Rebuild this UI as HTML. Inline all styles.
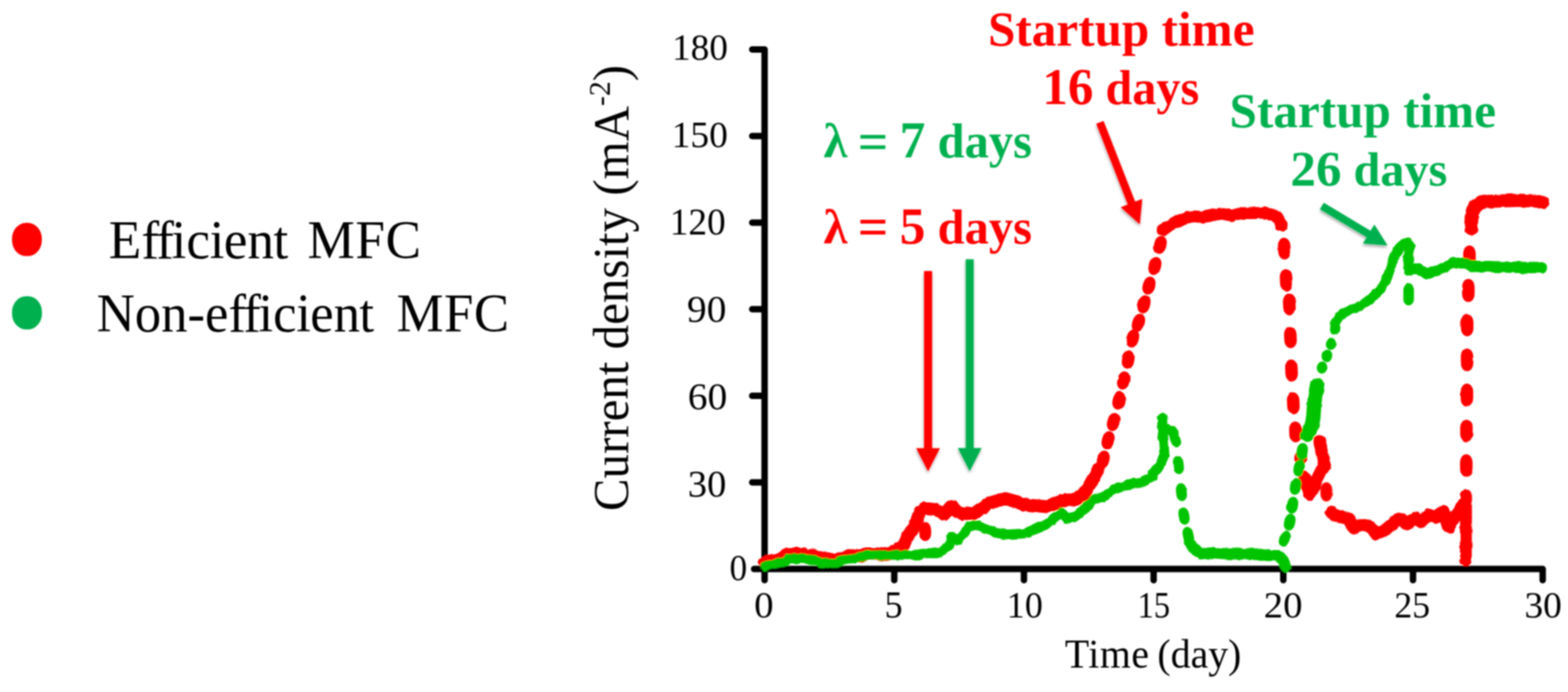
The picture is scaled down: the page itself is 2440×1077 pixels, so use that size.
<!DOCTYPE html>
<html lang="en">
<head>
<meta charset="utf-8">
<title>Current density of efficient and non-efficient MFC</title>
<style>
html,body{margin:0;padding:0;background:#ffffff;}
body{width:2440px;height:1077px;overflow:hidden;}
svg{display:block;}
svg text{font-family:"Liberation Serif","DejaVu Serif",serif;}
</style>
</head>
<body>
<svg width="2440" height="1077" viewBox="0 0 2440 1077" role="img" aria-label="Current density versus time for efficient and non-efficient MFC">
<defs>
<filter id="shadow" x="-30%" y="-30%" width="160%" height="160%">
<feDropShadow dx="-0.5" dy="3" stdDeviation="2.2" flood-color="#000" flood-opacity="0.38"/>
</filter>
<filter id="rough" filterUnits="userSpaceOnUse" x="1150" y="280" width="1290" height="640">
<feTurbulence type="fractalNoise" baseFrequency="0.09" numOctaves="2" seed="7" result="n"/>
<feDisplacementMap in="SourceGraphic" in2="n" scale="5" xChannelSelector="R" yChannelSelector="G"/>
</filter>
<filter id="rough2" filterUnits="userSpaceOnUse" x="1150" y="280" width="1290" height="640">
<feTurbulence type="fractalNoise" baseFrequency="0.05" numOctaves="1" seed="3" result="n"/>
<feDisplacementMap in="SourceGraphic" in2="n" scale="3" xChannelSelector="R" yChannelSelector="G"/>
</filter>
<filter id="soft" filterUnits="userSpaceOnUse" x="0" y="0" width="2440" height="1077">
<feGaussianBlur stdDeviation="0.85"/>
</filter>
</defs>
<rect width="2440" height="1077" fill="#ffffff"/>
<g id="figure" filter="url(#soft)">
<g id="legend">
<rect x="18.7" y="346.8" width="46.4" height="51.8" rx="22" ry="24.5" fill="#ff0000"/>
<rect x="18.7" y="461.0" width="46.6" height="51.8" rx="22" ry="24.5" fill="#00b050"/>
</g>
<g id="axes">
<path d="M1189.8 77.0 V903.0" stroke="#000" stroke-width="10.0" stroke-linecap="round" fill="none"/>
<path d="M1173.5 885.6 H2400.6" stroke="#000" stroke-width="10.0" stroke-linecap="round" fill="none"/>
<path d="M1170.5 77.0 H1187.8" stroke="#000" stroke-width="10.0" stroke-linecap="round" fill="none"/>
<path d="M1170.5 211.8 H1187.8" stroke="#000" stroke-width="10.0" stroke-linecap="round" fill="none"/>
<path d="M1170.5 346.5 H1187.8" stroke="#000" stroke-width="10.0" stroke-linecap="round" fill="none"/>
<path d="M1170.5 481.3 H1187.8" stroke="#000" stroke-width="10.0" stroke-linecap="round" fill="none"/>
<path d="M1170.5 616.1 H1187.8" stroke="#000" stroke-width="10.0" stroke-linecap="round" fill="none"/>
<path d="M1170.5 750.8 H1187.8" stroke="#000" stroke-width="10.0" stroke-linecap="round" fill="none"/>
<path d="M1391.6 887.6 V903.0" stroke="#000" stroke-width="10.0" stroke-linecap="round" fill="none"/>
<path d="M1593.4 887.6 V903.0" stroke="#000" stroke-width="10.0" stroke-linecap="round" fill="none"/>
<path d="M1795.2 887.6 V903.0" stroke="#000" stroke-width="10.0" stroke-linecap="round" fill="none"/>
<path d="M1997.0 887.6 V903.0" stroke="#000" stroke-width="10.0" stroke-linecap="round" fill="none"/>
<path d="M2198.8 887.6 V903.0" stroke="#000" stroke-width="10.0" stroke-linecap="round" fill="none"/>
<path d="M2400.6 887.6 V903.0" stroke="#000" stroke-width="10.0" stroke-linecap="round" fill="none"/>
</g>
<g id="series">
<g id="red-series" filter="url(#rough)">
<path d="M1189.7 875.8 L1205.1 872.9 L1220.1 867.9 L1225.1 862.1 L1246.9 862.1 L1255.2 864.6 L1266.9 864.6 L1276.9 869.6 L1288.7 869.6 L1300.4 872.9 L1313.7 867.1 L1325.4 863.8 L1338.8 865.4 L1347.2 862.1 L1363.9 862.1 L1378.9 862.9 L1391.5 859.1 L1404.8 850.4 L1412.0 836.2 L1420.4 822.3 L1427.1 808.9 L1431.6 796.1 L1437.4 791.5 L1447.4 792.2 L1455.8 793.2 L1469.2 800.6 L1477.5 790.5 L1482.5 788.2 L1489.2 795.2 L1497.6 800.2 L1514.3 798.6 L1527.7 791.9 L1539.4 783.5 L1556.1 777.7 L1564.5 776.0 L1580.0 780.2 L1593.4 785.2 L1610.1 786.9 L1626.9 788.5 L1640.2 783.5 L1656.9 778.5 L1677.0 776.8 L1687.0 768.5 L1695.4 755.1 L1703.8 740.1 L1708.8 730.0" fill="none" stroke="#ff0000" stroke-width="20.0" stroke-linecap="round" stroke-linejoin="round"/>
<path d="M1809.2 358.2 L1816.3 353.5 L1827.2 347.2 L1840.6 340.5 L1857.3 336.8 L1874.0 337.8 L1890.7 334.1 L1900.8 332.5 L1915.8 335.5 L1932.5 331.8 L1949.2 331.8 L1966.0 331.0 L1982.7 335.1 L1991.0 341.8 L1994.4 351.8" fill="none" stroke="#ff0000" stroke-width="18.5" stroke-linecap="round" stroke-linejoin="round"/>
<path d="M2030.2 742.8 L2038.0 768.8 L2043.2 761.0 L2048.4 748.0 L2054.9 735.0 L2061.4 724.6 L2058.8 714.2 L2055.7 698.6 L2053.6 686.9" fill="none" stroke="#ff0000" stroke-width="19.5" stroke-linecap="round" stroke-linejoin="round"/>
<path d="M2072.1 796.9 L2082.1 803.5 L2097.1 806.9 L2107.2 821.9 L2117.2 816.9 L2128.9 818.6 L2142.3 830.3 L2155.6 825.3 L2167.3 815.2 L2177.4 806.9 L2190.7 815.2 L2200.8 806.9 L2210.8 811.9 L2224.2 801.9 L2234.2 805.2 L2245.9 796.9 L2254.2 820.3 L2260.9 808.6 L2271.0 793.5 L2281.0 780.1" fill="none" stroke="#ff0000" stroke-width="20.0" stroke-linecap="round" stroke-linejoin="round"/>
<path d="M2281.3 771.0 L2281.0 872.0" fill="none" stroke="#ff0000" stroke-width="18.5" stroke-linecap="round" stroke-linejoin="round"/>
<path d="M2289.6 356.0 L2289.9 346.8 L2291.2 329.3 L2295.4 320.1 L2304.9 315.4 L2315.8 313.4 L2340.9 312.4 L2366.0 311.7 L2391.0 313.1 L2401.1 315.4" fill="none" stroke="#ff0000" stroke-width="20.5" stroke-linecap="round" stroke-linejoin="round"/>
</g>
<g id="red-points" filter="url(#rough2)">
<rect x="1425.0" y="818.0" width="29.5" height="18.5" rx="11.5" ry="9.2" fill="#ff0000" transform="rotate(89.0 1439.8 827.2)"/>
<rect x="1702.5" y="705.8" width="28.6" height="19.0" rx="11.8" ry="9.5" fill="#ff0000" transform="rotate(-76.0 1716.8 715.3)"/>
<rect x="1710.0" y="675.7" width="28.6" height="19.0" rx="11.8" ry="9.5" fill="#ff0000" transform="rotate(-74.9 1724.3 685.2)"/>
<rect x="1718.3" y="647.3" width="28.6" height="19.0" rx="11.8" ry="9.5" fill="#ff0000" transform="rotate(-74.9 1732.6 656.8)"/>
<rect x="1726.7" y="613.9" width="28.6" height="19.0" rx="11.8" ry="9.5" fill="#ff0000" transform="rotate(-76.3 1741.0 623.4)"/>
<rect x="1734.0" y="582.7" width="28.6" height="19.0" rx="11.8" ry="9.5" fill="#ff0000" transform="rotate(-77.0 1748.3 592.2)"/>
<rect x="1741.4" y="550.0" width="28.6" height="19.0" rx="11.8" ry="9.5" fill="#ff0000" transform="rotate(-77.7 1755.7 559.5)"/>
<rect x="1748.3" y="517.3" width="28.6" height="19.0" rx="11.8" ry="9.5" fill="#ff0000" transform="rotate(-74.5 1762.6 526.8)"/>
<rect x="1757.3" y="492.8" width="28.6" height="19.0" rx="11.8" ry="9.5" fill="#ff0000" transform="rotate(-71.7 1771.6 502.3)"/>
<rect x="1765.9" y="464.2" width="28.6" height="19.0" rx="11.8" ry="9.5" fill="#ff0000" transform="rotate(-74.3 1780.2 473.7)"/>
<rect x="1773.6" y="435.0" width="28.6" height="19.0" rx="11.8" ry="9.5" fill="#ff0000" transform="rotate(-74.1 1787.9 444.5)"/>
<rect x="1782.9" y="404.5" width="28.6" height="19.0" rx="11.8" ry="9.5" fill="#ff0000" transform="rotate(-74.5 1797.2 414.0)"/>
<rect x="1791.2" y="371.5" width="28.6" height="19.0" rx="11.8" ry="9.5" fill="#ff0000" transform="rotate(-75.9 1805.5 381.0)"/>
<rect x="1981.5" y="377.2" width="34.0" height="19.5" rx="12.1" ry="9.8" fill="#ff0000" transform="rotate(87.3 1998.5 387.0)"/>
<rect x="1984.0" y="426.8" width="35.0" height="19.5" rx="12.1" ry="9.8" fill="#ff0000" transform="rotate(87.4 2001.5 436.5)"/>
<rect x="1989.3" y="464.2" width="34.0" height="19.5" rx="12.1" ry="9.8" fill="#ff0000" transform="rotate(87.3 2006.3 474.0)"/>
<rect x="1991.0" y="515.2" width="34.0" height="19.5" rx="12.1" ry="9.8" fill="#ff0000" transform="rotate(87.3 2008.0 525.0)"/>
<rect x="1992.4" y="567.0" width="34.5" height="19.5" rx="12.1" ry="9.8" fill="#ff0000" transform="rotate(87.3 2009.7 576.8)"/>
<rect x="1995.2" y="618.0" width="34.5" height="19.5" rx="12.1" ry="9.8" fill="#ff0000" transform="rotate(87.3 2012.5 627.8)"/>
<rect x="1999.7" y="662.5" width="32.5" height="19.5" rx="12.1" ry="9.8" fill="#ff0000" transform="rotate(87.2 2016.0 672.2)"/>
<rect x="2012.6" y="703.2" width="22.1" height="19.5" rx="11.0" ry="9.8" fill="#ff0000" transform="rotate(85.8 2023.6 713.0)"/>
<rect x="2049.1" y="756.3" width="29.9" height="18.5" rx="11.5" ry="9.2" fill="#ff0000" transform="rotate(90.0 2064.0 765.5)"/>
<rect x="2269.6" y="389.2" width="34.0" height="19.5" rx="12.1" ry="9.8" fill="#ff0000" transform="rotate(90.0 2286.6 399.0)"/>
<rect x="2266.9" y="442.2" width="36.0" height="19.5" rx="12.1" ry="9.8" fill="#ff0000" transform="rotate(90.0 2284.9 452.0)"/>
<rect x="2265.6" y="496.2" width="35.1" height="19.5" rx="12.1" ry="9.8" fill="#ff0000" transform="rotate(90.0 2283.2 505.9)"/>
<rect x="2265.4" y="550.5" width="35.1" height="19.5" rx="12.1" ry="9.8" fill="#ff0000" transform="rotate(90.0 2283.0 560.2)"/>
<rect x="2264.9" y="605.3" width="35.9" height="19.5" rx="12.1" ry="9.8" fill="#ff0000" transform="rotate(90.0 2282.8 615.0)"/>
<rect x="2264.8" y="660.8" width="34.3" height="19.5" rx="12.1" ry="9.8" fill="#ff0000" transform="rotate(90.0 2282.0 670.5)"/>
<rect x="2264.3" y="714.8" width="35.0" height="19.5" rx="12.1" ry="9.8" fill="#ff0000" transform="rotate(90.0 2281.8 724.5)"/>
</g>
<g id="green-series" filter="url(#rough)">
<path d="M1189.7 881.5 L1205.1 877.1 L1221.8 873.8 L1226.8 869.6 L1246.9 869.6 L1266.9 871.3 L1276.9 875.5 L1300.4 876.3 L1313.7 870.4 L1330.4 868.8 L1347.2 864.6 L1363.9 863.8 L1430.7 863.8 L1437.4 860.4 L1447.4 862.1" fill="none" stroke="#00c400" stroke-width="14.8" stroke-linecap="round" stroke-linejoin="round"/>
<path d="M1447.4 862.1 L1464.2 858.7 L1477.5 848.7 L1480.9 835.3 L1489.2 840.4 L1497.6 833.7 L1507.6 820.3 L1517.7 816.9 L1531.0 822.0 L1547.7 828.7 L1564.5 832.0 L1580.0 831.2 L1593.4 830.3 L1606.8 825.3 L1626.9 816.9 L1643.6 803.6 L1651.9 797.7 L1660.3 806.9 L1673.7 803.6 L1690.4 790.2 L1702.1 776.8 L1717.1 773.5 L1732.2 761.8 L1743.9 758.4 L1760.6 752.6 L1777.3 750.1 L1794.0 741.7 L1793.7 737.1" fill="none" stroke="#00c400" stroke-width="15.2" stroke-linecap="round" stroke-linejoin="round"/>
<path d="M1793.7 737.1 L1805.4 723.7 L1812.0 708.6 L1810.4 683.6 L1808.7 666.9 L1808.7 650.1" fill="none" stroke="#00c400" stroke-width="15.5" stroke-linecap="round" stroke-linejoin="round"/>
<path d="M1812.0 665.2 L1825.4 671.9 L1830.4 688.6" fill="none" stroke="#00c400" stroke-width="15.5" stroke-linecap="round" stroke-linejoin="round"/>
<path d="M1850.8 843.7 L1857.5 853.7 L1869.2 862.1 L1886.0 860.4 L1911.0 862.1 L1960.0 862.1 L1956.7 862.1 L1973.4 864.6 L1990.1 864.6 L1996.8 872.1 L2000.2 881.3" fill="none" stroke="#00c400" stroke-width="17.3" stroke-linecap="round" stroke-linejoin="round"/>
<path d="M2034.1 676.5 L2041.1 664.8 L2043.7 649.2 L2045.0 631.0 L2046.6 615.4 L2049.7 599.3" fill="none" stroke="#00c400" stroke-width="22.5" stroke-linecap="round" stroke-linejoin="round"/>
<path d="M2077.0 513.0 L2078.0 503.0 L2083.0 494.0 L2092.0 486.5 L2103.0 481.5 L2113.0 478.5 L2122.0 473.0 L2134.7 463.5 L2144.0 455.0 L2150.5 447.5 L2158.4 433.0 L2164.7 414.5 L2171.0 397.0 L2177.5 385.5 L2185.0 379.0 L2190.5 377.5" fill="none" stroke="#00c400" stroke-width="15.0" stroke-linecap="round" stroke-linejoin="round"/>
<path d="M2190.5 377.5 L2194.0 384.0 L2192.0 395.0 L2191.0 410.0 L2192.0 420.0 L2199.0 418.0 L2207.2 417.5 L2220.5 427.0 L2232.2 422.0 L2249.0 415.4 L2262.3 408.7 L2282.4 410.3 L2290.7 415.4" fill="none" stroke="#00c400" stroke-width="16.0" stroke-linecap="round" stroke-linejoin="round"/>
<path d="M2290.7 414.8 L2307.5 414.8 L2340.9 415.6 L2374.3 416.4 L2397.7 416.4" fill="none" stroke="#00c400" stroke-width="17.6" stroke-linecap="round" stroke-linejoin="round"/>
</g>
<g id="green-points" filter="url(#rough2)">
<rect x="1819.8" y="715.8" width="28.0" height="16.5" rx="10.2" ry="8.2" fill="#00c400" transform="rotate(83.6 1833.8 724.0)"/>
<rect x="1824.5" y="757.8" width="28.0" height="16.5" rx="10.2" ry="8.2" fill="#00c400" transform="rotate(83.7 1838.5 766.0)"/>
<rect x="1828.5" y="794.5" width="28.0" height="16.5" rx="10.2" ry="8.2" fill="#00c400" transform="rotate(81.0 1842.5 802.7)"/>
<rect x="1835.2" y="825.5" width="28.0" height="16.5" rx="10.2" ry="8.2" fill="#00c400" transform="rotate(77.8 1849.2 833.7)"/>
<rect x="1986.0" y="830.2" width="26.5" height="17.0" rx="10.5" ry="8.5" fill="#00c400" transform="rotate(-73.7 1999.3 838.7)"/>
<rect x="1993.7" y="804.2" width="26.5" height="17.0" rx="10.5" ry="8.5" fill="#00c400" transform="rotate(-77.1 2006.9 812.7)"/>
<rect x="1998.0" y="777.8" width="26.5" height="17.0" rx="10.5" ry="8.5" fill="#00c400" transform="rotate(-80.7 2011.3 786.3)"/>
<rect x="2002.8" y="748.5" width="26.5" height="17.0" rx="10.5" ry="8.5" fill="#00c400" transform="rotate(-79.9 2016.0 757.0)"/>
<rect x="2008.3" y="720.0" width="26.5" height="17.0" rx="10.5" ry="8.5" fill="#00c400" transform="rotate(-79.3 2021.6 728.5)"/>
<rect x="2013.0" y="694.0" width="26.5" height="17.0" rx="10.5" ry="8.5" fill="#00c400" transform="rotate(-79.8 2026.3 702.5)"/>
<rect x="2043.0" y="599.8" width="19.0" height="16.5" rx="9.5" ry="8.2" fill="#00c400" transform="rotate(-82.4 2052.5 608.0)"/>
<rect x="2047.8" y="563.8" width="19.0" height="16.5" rx="9.5" ry="8.2" fill="#00c400" transform="rotate(-77.3 2057.3 572.0)"/>
<rect x="2055.3" y="545.4" width="19.0" height="16.5" rx="9.5" ry="8.2" fill="#00c400" transform="rotate(-68.9 2064.8 553.6)"/>
<rect x="2062.0" y="527.0" width="19.0" height="16.5" rx="9.5" ry="8.2" fill="#00c400" transform="rotate(-70.0 2071.5 535.2)"/>
<rect x="2174.5" y="449.8" width="35.0" height="16.5" rx="10.2" ry="8.2" fill="#00c400" transform="rotate(90.0 2192.0 458.0)"/>
</g>
</g>
<g id="arrows" filter="url(#shadow)">
<polygon points="1438.0,421.7 1438.0,697.6 1425.7,697.6 1444.2,733.6 1462.7,697.6 1450.5,697.6 1450.5,421.7" fill="#ff0000"/>
<polygon points="1502.8,403.4 1502.8,697.2 1490.5,697.2 1509.0,733.2 1527.5,697.2 1515.2,697.2 1515.2,403.4" fill="#00b050"/>
<polygon points="1705.9,192.6 1755.1,318.3 1744.0,322.6 1773.7,349.1 1777.5,309.5 1766.4,313.8 1717.3,188.2" fill="#ff0000"/>
<polygon points="2054.0,325.7 2126.8,369.3 2120.9,379.1 2159.2,381.9 2138.7,349.5 2132.8,359.2 2060.0,315.5" fill="#00b050"/>
</g>
<g id="labels">
<text transform="translate(169.31 401.94) scale(0.9977 1.0093)" font-size="83" dx="0 0 -3 -3.5 0 -0.5 -1 0 -1 0 9.23 0.9 0.9">Efficient MFC</text>
<text transform="translate(150.43 516.34) scale(0.9889 1.0076)" font-size="83" dx="0 0 0 0 0 0 -3 -3.5 0 -0.5 -1 0 -1 0 14.68 0.9 0.9">Non-efficient MFC</text>
<text transform="translate(1537.47 71.19) scale(1.0075 1.0101)" font-size="76" font-weight="bold" fill="#ff0000">Startup time</text>
<text transform="translate(1622.09 161.74) scale(0.9866 0.9885)" font-size="76" font-weight="bold" fill="#ff0000"><tspan font-size="80.5">16</tspan> days</text>
<text transform="translate(1913.37 198.43) scale(1.0075 1.0072)" font-size="76" font-weight="bold" fill="#00b050">Startup time</text>
<text transform="translate(2008.04 289.17) scale(0.9876 0.9741)" font-size="76" font-weight="bold" fill="#00b050"><tspan font-size="80.5">26</tspan> days</text>
<text transform="translate(1281.51 244.73) scale(0.9941 0.9950)" font-size="76" font-weight="bold" fill="#00b050">λ <tspan font-size="84" dy="3.5" dx="-2.8">=</tspan><tspan dy="-3.5" dx="-1.2"> </tspan><tspan font-size="80.5">7</tspan> days</text>
<text transform="translate(1281.51 378.64) scale(0.9941 1.0007)" font-size="76" font-weight="bold" fill="#ff0000">λ <tspan font-size="84" dy="3.5" dx="-2.8">=</tspan><tspan dy="-3.5" dx="-1.2"> </tspan><tspan font-size="80.5">5</tspan> days</text>
<text transform="translate(1657.00 1038.80) scale(0.9991 1.0187)" font-size="62" dx="0 0.8 0.8 0.9 -2.5">Time (day)</text>
<text transform="translate(976.50 795.51) rotate(-90) scale(1.0026 1.0156)" font-size="76">Current density (mA<tspan font-size="46" dy="-27">-2</tspan><tspan dy="27">)</tspan></text>
<text transform="translate(1045.70 92.80) scale(1.0006 0.9974)" font-size="58">180</text>
<text transform="translate(1045.17 228.60) scale(1.0069 0.9923)" font-size="58">150</text>
<text transform="translate(1042.20 364.89) scale(1.0006 1.0128)" font-size="58">120</text>
<text transform="translate(1068.99 501.19) scale(1.0567 1.0154)" font-size="58">90</text>
<text transform="translate(1070.35 636.89) scale(1.0610 1.0179)" font-size="58">60</text>
<text transform="translate(1070.15 772.99) scale(1.0358 1.0205)" font-size="58">30</text>
<text transform="translate(1135.37 903.31) scale(0.9469 0.9718)" font-size="58">0</text>
<text transform="translate(1173.55 961.31) scale(1.0449 0.9897)" font-size="58">0</text>
<text transform="translate(1376.41 961.30) scale(0.9677 1.0026)" font-size="58">5</text>
<text transform="translate(1566.55 961.31) scale(0.9695 0.9897)" font-size="58">10</text>
<text transform="translate(1770.35 961.30) scale(0.8709 0.9961)" font-size="58">15</text>
<text transform="translate(1966.60 961.31) scale(1.0385 0.9897)" font-size="58">20</text>
<text transform="translate(2169.70 961.30) scale(0.9615 0.9961)" font-size="58">25</text>
<text transform="translate(2372.13 961.31) scale(1.0057 0.9897)" font-size="58">30</text>
</g>
</g>
</svg>
</body>
</html>
